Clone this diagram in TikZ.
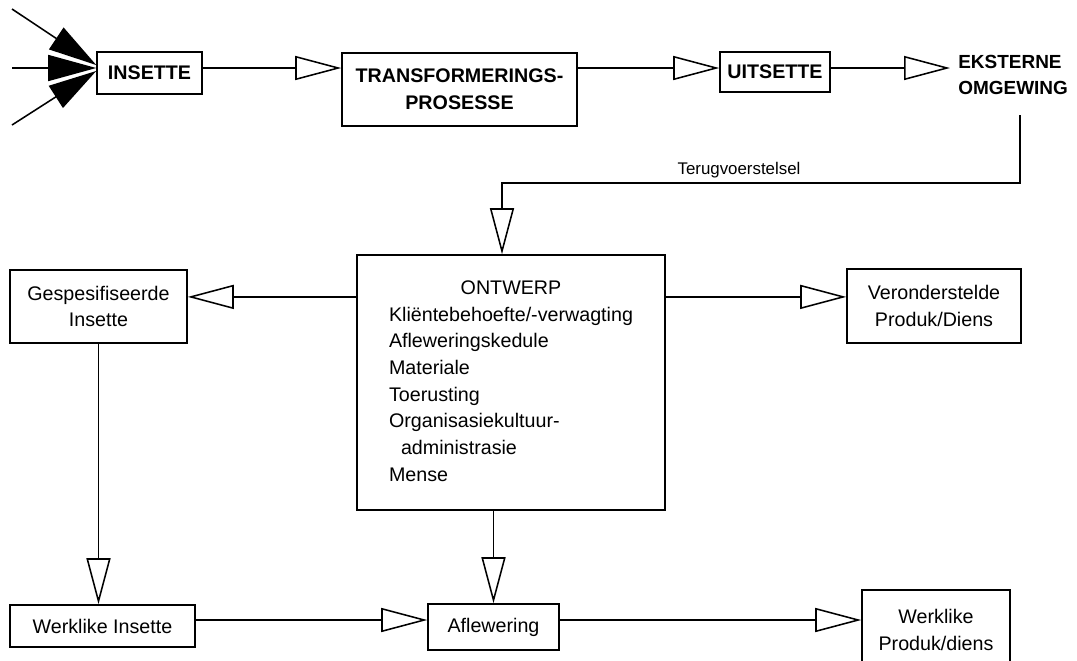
\documentclass[tikz,border=0pt]{standalone}
\usepackage{fontspec}
\setmainfont{Liberation Sans}
\usetikzlibrary{arrows.meta}

\tikzset{
  box/.style={draw, line width=1.1pt, align=center},
  topbox/.style={box, font=\fontsize{14pt}{19pt}\selectfont\bfseries},
  openarrow/.style={line width=1.1pt, -{Triangle[open, length=1.15cm, width=0.6cm]}},
  fanarrow/.style={line width=1.1pt, -{Triangle[length=1.2cm, width=0.65cm]}},
}

\begin{document}
\begin{tikzpicture}[font=\fontsize{14pt}{19pt}\selectfont]
    \useasboundingbox (0, 0) rectangle (26.925, -16.5);
    \clip (0, 0) rectangle (26.925, -16.5);

    % top row
    \node[topbox, minimum width=2.625cm, minimum height=1.05cm] (INS) at (3.7375, -1.825) {INSETTE};
    \node[topbox, minimum width=5.875cm, minimum height=1.825cm] (TRANS) at (11.4875, -2.2375) {TRANSFORMERINGS-\\PROSESSE};
    \node[topbox, minimum width=2.75cm, minimum height=1cm] (UIT) at (19.375, -1.8) {UITSETTE};
    \node[font=\fontsize{13.5pt}{19pt}\selectfont\bfseries, align=left, anchor=west, inner xsep=0.2cm] (EKS) at (23.75, -1.875) {EKSTERNE\\OMGEWING};

    \coordinate (s1) at (0.3, -0.225);
    \coordinate (s2) at (0.3, -1.7);
    \coordinate (s3) at (0.3, -3.125);
    \draw[fanarrow] (s1) -- ([yshift=0.2cm]INS.west);
    \draw[fanarrow] (s2) -- ([yshift=0.125cm]INS.west);
    \draw[fanarrow] (s3) -- ([yshift=0.05cm]INS.west);

    \coordinate (tl) at ([yshift=0.125cm]INS.east);
    \draw[openarrow] (tl) -- (tl -| TRANS.west);
    \draw[openarrow] (tl -| TRANS.east) -- (tl -| UIT.west);
    \draw[openarrow] (tl -| UIT.east) -- (tl -| EKS.west);

    % middle row
    \node[box, minimum width=7.7cm, minimum height=6.375cm] (ONT) at (12.775, -9.5625) {%
        \begin{tabular}{@{}l@{}}
        \multicolumn{1}{@{}c@{}}{ONTWERP}\\
        Kliëntebehoefte/-verwagting\\
        Afleweringskedule\\
        Materiale\\
        Toerusting\\
        Organisasiekultuur-\\
        \hspace{0.3cm}administrasie\\
        Mense
        \end{tabular}};
    \node[box, minimum width=4.425cm, minimum height=1.825cm] (GESP) at (2.4625, -7.6625) {Gespesifiseerde\\Insette};
    \node[box, minimum width=4.35cm, minimum height=1.85cm] (VER) at (23.35, -7.65) {Veronderstelde\\Produk/Diens};

    % feedback
    \coordinate (fbtop) at (25.5, -2.875);
    \coordinate (fb) at (25.5, -4.575);
    \draw[openarrow] (fbtop) -- (fb) -| ([xshift=-0.225cm]ONT.north);
    \node[font=\fontsize{12pt}{14pt}\selectfont, above] (FBL) at (18.475, -4.575) {Terugvoerstelsel};

    \coordinate (ml) at ([yshift=0.24cm]GESP.east);
    \draw[openarrow] (ml -| ONT.west) -- (ml);
    \draw[openarrow] (ml -| ONT.east) -- (ml -| VER.west);

    % bottom row
    \node[box, minimum width=4.625cm, minimum height=1.05cm] (WI) at (2.5625, -15.65) {Werklike Insette};
    \node[box, minimum width=3.275cm, minimum height=1.15cm] (AFL) at (12.3375, -15.675) {Aflewering};
    \node[box, minimum width=3.7cm, minimum height=2cm] (WP) at (23.4, -15.75) {Werklike\\Produk/diens};

    \draw[openarrow] (GESP.south) -- (GESP.south |- WI.north);
    \draw[openarrow] (AFL.north |- ONT.south) -- (AFL.north);

    \coordinate (bl) at ([yshift=0.175cm]AFL.west);
    \draw[openarrow] (bl -| WI.east) -- (bl);
    \draw[openarrow] (bl -| AFL.east) -- (bl -| WP.west);
\end{tikzpicture}
\end{document}
